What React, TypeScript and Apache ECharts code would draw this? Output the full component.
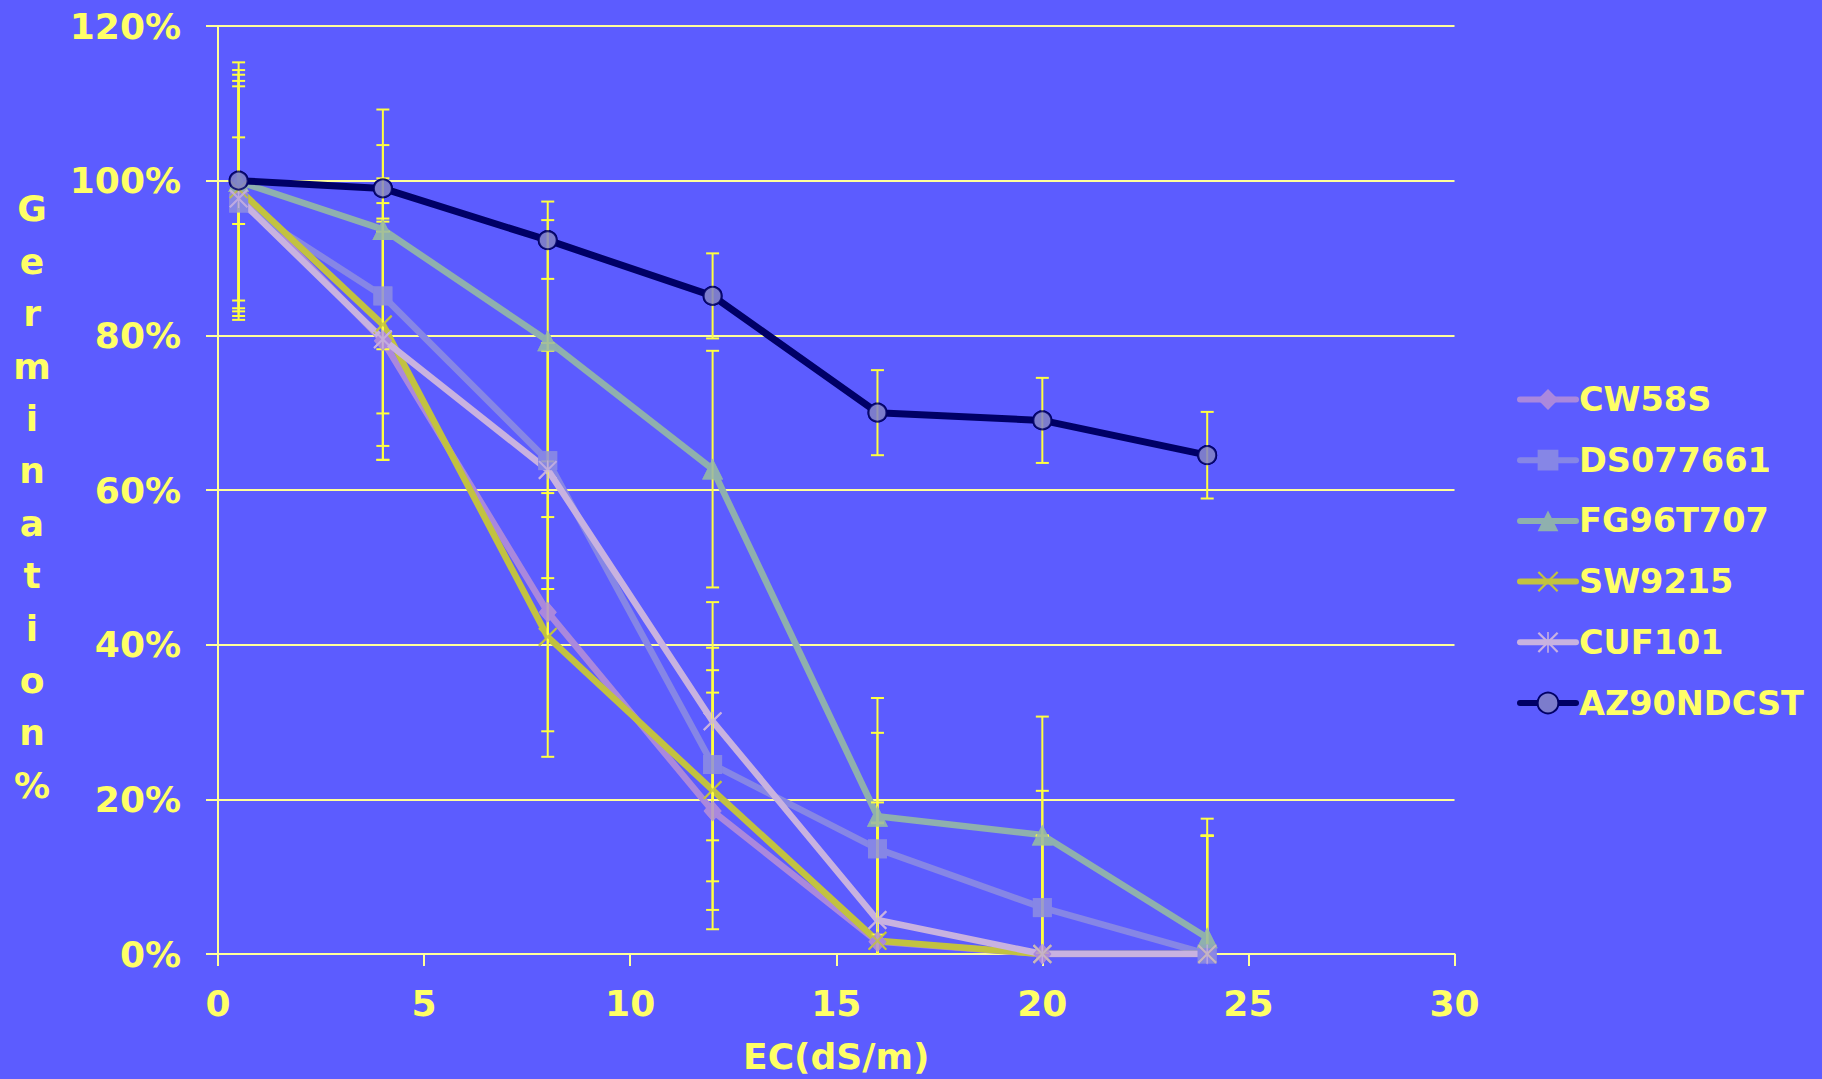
import React, { useEffect, useRef } from 'react';
import * as echarts from 'echarts';

// EC (dS/m) values where germination was measured
const ecValues = [0.5, 4, 8, 12, 16, 20, 24];

// Germination (%) per cultivar
const cw58s = [98.4, 79.3, 44.2, 18.5, 1.6, 0, 0];
const ds077661 = [97.1, 85.1, 63.8, 24.5, 13.6, 6.0, 0];
const fg96t707 = [99.9, 93.7, 79.3, 62.7, 17.8, 15.4, 2.1];
const sw9215 = [98.9, 81.4, 41.0, 21.2, 1.7, 0, 0];
const cuf101 = [97.7, 79.5, 62.6, 30.1, 4.4, 0, 0];
const az90ndcst = [100, 99.0, 92.3, 85.1, 70.0, 69.0, 64.5];

// Error bar half-widths (%)
const errCw58s = [15.3, 15.4, 15.4, 15.3, 15.3, 15.3, 15.3];
const errDs077661 = [15.1, 15.2, 15.2, 15.1, 15.0, 15.1, 15.3];
const errFg96t707 = [15.4, 15.5, 15.6, 15.3, 15.3, 15.3, 15.4];
const errSw9215 = [15.4, 15.7, 15.5, 15.5, 15.3, 15.3, 15.3];
const errCuf101 = [15.2, 15.6, 15.4, 15.4, 15.2, 15.3, 15.3];
const errAz90ndcst = [5.6, 5.6, 5.0, 5.5, 5.5, 5.5, 5.6];

const seriesNames = ['CW58S', 'DS077661', 'FG96T707', 'SW9215', 'CUF101', 'AZ90NDCST'];
const seriesValues = [cw58s, ds077661, fg96t707, sw9215, cuf101, az90ndcst];
const seriesErrors = [errCw58s, errDs077661, errFg96t707, errSw9215, errCuf101, errAz90ndcst];

const yTitle = 'Germination%';
const xTitle = 'EC(dS/m)';

const X_MARK =
  'path://M0,1.5L1.5,0L10,8.5L18.5,0L20,1.5L11.5,10L20,18.5L18.5,20L10,11.5L1.5,20L0,18.5L8.5,10Z';
const STAR_MARK =
  'path://M0,1.5L1.5,0L10,8.5L18.5,0L20,1.5L11.5,10L20,18.5L18.5,20L10,11.5L1.5,20L0,18.5L8.5,10ZM9.25,0L10.75,0L10.75,20L9.25,20Z';

const looks: any[] = [
  { color: '#AA88DD', symbol: 'diamond', size: [18, 21] },
  { color: '#8686E6', symbol: 'rect', size: 19 },
  { color: '#8FB0AE', symbol: 'triangle', size: 21 },
  { color: '#C2C240', symbol: X_MARK, size: 19 },
  { color: '#C8B2E0', symbol: STAR_MARK, size: 19 },
  { color: '#000066', symbol: 'circle', size: 18, fill: '#7C7CCC', border: '#000066' },
];

const TEXT = '#FFFF66';
const GRID = '#FFFF99';
const ERR = '#FFFF40';
const FONT = 'DejaVu Sans';

export default function App() {
  const ref = useRef<HTMLDivElement>(null);
  useEffect(() => {
    const chart = echarts.init(ref.current!, null, { renderer: 'svg' });

    const lineSeries = seriesNames.map((name, i) => {
      const lk = looks[i];
      return {
        name,
        type: 'line',
        z: 2,
        data: ecValues.map((x, j) => [x, seriesValues[i][j]]),
        symbol: lk.symbol,
        symbolSize: lk.size,
        showSymbol: true,
        lineStyle: { color: lk.color, width: i === 5 ? 7 : 6.5, cap: 'round', join: 'round' },
        itemStyle: lk.fill
          ? { color: lk.fill, borderColor: lk.border, borderWidth: 2 }
          : { color: lk.color, borderWidth: 0 },
        emphasis: { disabled: true },
      };
    });

    const errSeries = seriesNames.map((name, i) => ({
      name: name + ' err',
      type: 'custom',
      z: 3,
      clip: true,
      silent: true,
      data: ecValues.map((x, j) => [x, seriesValues[i][j] - seriesErrors[i][j], seriesValues[i][j] + seriesErrors[i][j]]),
      encode: { x: 0, y: [1, 2] },
      renderItem: (params: any, api: any) => {
        const x = api.value(0);
        const lo = api.coord([x, api.value(1)]);
        const hi = api.coord([x, api.value(2)]);
        const cap = 6.5;
        const st = { stroke: ERR, lineWidth: 2 };
        return {
          type: 'group',
          children: [
            { type: 'line', shape: { x1: lo[0], y1: lo[1], x2: hi[0], y2: hi[1] }, style: st },
            { type: 'line', shape: { x1: lo[0] - cap, y1: lo[1], x2: lo[0] + cap, y2: lo[1] }, style: st },
            { type: 'line', shape: { x1: hi[0] - cap, y1: hi[1], x2: hi[0] + cap, y2: hi[1] }, style: st },
          ],
        };
      },
    }));

    const markerSeries = seriesNames.map((name, i) => {
      const lk = looks[i];
      return {
        name: name + ' mk',
        type: 'scatter',
        z: 4,
        data: ecValues.map((x, j) => [x, seriesValues[i][j]]),
        symbol: lk.symbol,
        symbolSize: lk.size,
        itemStyle: lk.fill
          ? { color: lk.fill, borderColor: lk.border, borderWidth: 2 }
          : { color: lk.color, borderWidth: 0 },
        emphasis: { disabled: true },
        silent: true,
      };
    });

    chart.setOption({
      animation: false,
      backgroundColor: '#5C5CFF',
      grid: { left: 218, right: 367.5, top: 26, bottom: 124.5, containLabel: false },
      legend: {
        data: seriesNames,
        orient: 'vertical',
        left: 1517,
        top: 379.5,
        padding: 0,
        itemWidth: 56,
        itemHeight: 26,
        itemGap: 20.7,
        selectedMode: false,
        lineStyle: { width: 6 },
        textStyle: { color: TEXT, fontSize: 33.5, fontWeight: 'bold', fontFamily: FONT, lineHeight: 40, padding: [0, 0, 0, -2] },
      },
      xAxis: {
        type: 'value',
        min: 0,
        max: 30,
        interval: 5,
        name: xTitle,
        nameLocation: 'middle',
        nameGap: 84,
        nameTextStyle: { color: TEXT, fontSize: 36, fontWeight: 'bold', fontFamily: FONT },
        axisLine: { show: true, onZero: false, lineStyle: { color: GRID, width: 2 } },
        axisTick: { show: true, inside: false, length: 12, lineStyle: { color: GRID, width: 2 } },
        splitLine: { show: false },
        axisLabel: {
          color: TEXT,
          fontSize: 36,
          fontWeight: 'bold',
          fontFamily: FONT,
          margin: 31,
          showMinLabel: true,
          showMaxLabel: true,
        },
      },
      yAxis: {
        type: 'value',
        min: 0,
        max: 120,
        interval: 20,
        axisLine: { show: true, lineStyle: { color: GRID, width: 2 } },
        axisTick: { show: true, inside: false, length: 12, lineStyle: { color: GRID, width: 2 } },
        splitLine: { show: true, lineStyle: { color: GRID, width: 2 } },
        axisLabel: {
          color: TEXT,
          fontSize: 36,
          fontWeight: 'bold',
          fontFamily: FONT,
          margin: 37,
          formatter: (v: number) => `${v}%`,
          showMinLabel: true,
          showMaxLabel: true,
        },
      },
      graphic: [
        {
          type: 'text',
          x: 32,
          y: 497,
          style: {
            text: yTitle.split('').join('\n'),
            fill: TEXT,
            fontSize: 36,
            fontWeight: 'bold',
            fontFamily: FONT,
            align: 'center',
            verticalAlign: 'middle',
            lineHeight: 52.4,
          },
        },
      ],
      series: [...lineSeries, ...errSeries, ...markerSeries],
    });

    return () => chart.dispose();
  }, []);

  return <div ref={ref} style={{ position: 'fixed', left: 0, top: 0, width: 1822, height: 1079 }} />;
}
